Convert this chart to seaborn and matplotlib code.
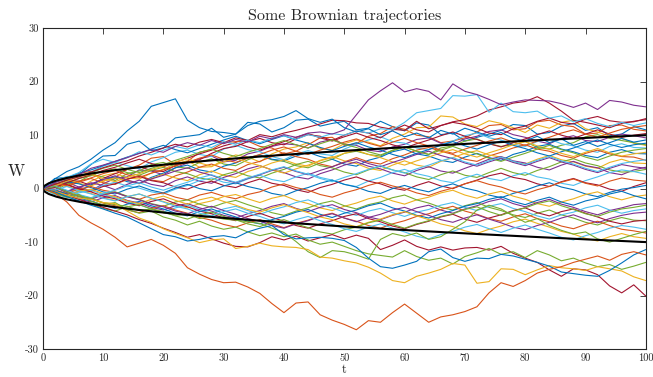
import numpy as np
import pandas as pd
import matplotlib
matplotlib.use("Agg")
import matplotlib.pyplot as plt
import seaborn as sns

# MATLAB default line colours
blue, orange, yellow, purple = "#0072BD", "#D95319", "#EDB120", "#7E2F8E"
green, lightblue, darkred = "#77AC30", "#4DBEEE", "#A2142F"

# -------------------------
# Trajectories read off the picture, sampled every 2 time units (51 values, t = 0..100)
# -------------------------
bundle = [
    (blue,      [0, 1.9, 2.1, 2.6, 4.5, 6.1, 6.2, 8.3, 8.9, 7.1, 7.6, 9.5, 9.8, 10.1, 11.3, 9.6, 10.2, 12.4, 12.1, 10.6, 11.4, 12.8, 13.0, 11.7, 12.2, 12.6, 11.0, 11.3, 12.6, 11.6, 10.8, 12.3, 11.9, 10.1, 10.4, 8.9, 9.6, 10.2, 10.9, 12.0, 11.8, 10.2, 10.5, 11.7, 12.2, 10.9, 11.4, 9.9, 10.2, 11.6, 11.0]),
    (orange,    [0, -0.6, 1.6, 2.9, 3.2, 1.4, 2.1, 3.6, 4.4, 5.7, 6.0, 4.5, 5.1, 6.8, 7.3, 8.6, 8.8, 8.9, 7.9, 7.6, 6.5, 7.0, 8.2, 9.5, 9.6, 8.1, 8.4, 9.8, 10.3, 11.6, 11.1, 10.0, 9.7, 8.6, 8.9, 9.5, 10.6, 11.8, 12.0, 11.0, 11.2, 12.5, 12.8, 11.9, 11.6, 10.2, 10.4, 11.8, 11.9, 11.1, 10.8]),
    (yellow,    [0, 0.6, -0.8, 0.1, 1.4, 2.4, 2.9, 2.0, 1.8, 2.9, 3.6, 4.7, 5.2, 4.0, 4.1, 5.4, 6.3, 5.9, 5.0, 6.5, 7.4, 7.8, 8.6, 7.5, 7.2, 8.4, 9.1, 8.7, 8.0, 9.4, 10.2, 11.4, 11.5, 13.6, 13.4, 12.1, 11.6, 12.7, 12.2, 11.4, 10.5, 11.9, 11.3, 12.4, 12.8, 11.2, 10.6, 9.8, 9.4, 8.5, 8.1]),
    (purple,    [0, 0.2, 1.2, 0.3, -0.4, 0.9, 1.9, 2.2, 3.5, 3.3, 2.6, 3.9, 4.8, 5.6, 6.1, 5.0, 5.3, 6.5, 7.0, 7.9, 8.4, 8.2, 7.6, 8.7, 9.2, 8.3, 8.1, 7.2, 6.9, 7.8, 8.3, 9.2, 9.5, 8.5, 8.2, 9.3, 9.8, 10.7, 11.0, 10.1, 9.6, 8.9, 8.4, 9.4, 9.9, 9.0, 8.8, 9.6, 10.2, 9.9, 9.5]),
    (green,     [0, -0.4, 0.9, 1.3, 2.6, 2.2, 1.5, 2.8, 3.3, 4.5, 4.9, 4.1, 3.8, 4.9, 5.6, 4.6, 4.3, 5.4, 6.2, 5.4, 5.1, 4.3, 3.9, 4.8, 5.5, 6.6, 7.0, 6.4, 6.1, 7.2, 7.8, 7.0, 6.4, 7.6, 8.0, 8.9, 9.3, 8.4, 7.9, 8.2, 8.8, 7.7, 7.4, 8.1, 8.6, 9.7, 10.1, 9.4, 9.0, 8.6, 8.2]),
    (lightblue, [0, 1.4, 2.3, 2.0, 3.1, 4.2, 4.9, 4.3, 3.7, 5.0, 5.8, 6.8, 7.2, 6.4, 6.0, 7.4, 8.1, 7.3, 6.9, 6.0, 5.4, 6.5, 7.1, 6.5, 6.2, 7.4, 8.3, 9.1, 9.7, 8.8, 8.5, 7.6, 7.3, 8.2, 8.9, 9.9, 10.4, 9.5, 9.1, 8.3, 7.9, 8.8, 9.3, 8.4, 8.0, 7.2, 6.8, 7.9, 8.4, 7.7, 7.6]),
    (darkred,   [0, 0.4, 1.5, 1.4, 0.6, 1.9, 2.8, 3.6, 4.1, 3.4, 3.2, 4.3, 5.0, 5.4, 6.6, 7.5, 7.9, 8.8, 9.4, 8.6, 8.2, 9.3, 10.1, 9.8, 9.0, 10.0, 10.8, 10.4, 9.5, 10.9, 11.9, 11.0, 10.6, 11.8, 12.4, 12.0, 11.3, 10.4, 10.1, 11.2, 11.7, 12.6, 13.2, 12.4, 12.1, 13.0, 13.5, 12.7, 12.4, 12.5, 13.1]),
    (blue,      [0, -0.9, -1.1, -0.5, 0.7, 1.8, 2.2, 1.3, 1.0, 2.1, 2.9, 3.9, 4.4, 3.5, 3.1, 4.2, 4.8, 5.8, 6.3, 5.5, 5.2, 6.1, 6.8, 6.0, 5.5, 4.6, 4.2, 5.3, 5.9, 6.9, 7.4, 6.5, 6.1, 5.3, 4.9, 5.9, 6.6, 5.8, 5.3, 6.4, 7.0, 7.9, 8.3, 7.4, 6.9, 6.2, 5.8, 6.8, 7.3, 6.6, 6.5]),
    (orange,    [0, 0.9, 0.4, 1.2, 1.9, 1.1, 0.8, 1.7, 2.5, 1.6, 1.3, 2.4, 3.1, 4.0, 4.6, 3.8, 3.4, 4.5, 5.1, 6.0, 6.7, 6.0, 5.5, 4.6, 4.1, 5.0, 5.8, 5.0, 4.6, 5.6, 6.3, 7.2, 7.7, 7.0, 6.4, 5.5, 5.1, 6.1, 6.8, 7.6, 8.2, 7.4, 7.0, 6.2, 5.7, 6.6, 7.2, 6.5, 6.0, 5.9, 5.3]),
    (yellow,    [0, 1.2, 1.8, 1.0, 0.5, 1.4, 2.0, 1.6, 0.9, 1.9, 2.7, 2.0, 1.5, 2.6, 3.3, 2.5, 2.1, 3.2, 3.9, 4.8, 5.4, 4.6, 4.2, 5.3, 6.0, 5.2, 4.7, 3.8, 3.4, 4.4, 5.2, 4.4, 4.0, 5.1, 5.8, 6.6, 7.1, 6.3, 5.9, 5.0, 4.6, 5.5, 6.2, 5.4, 5.0, 4.2, 3.8, 4.9, 5.5, 4.8, 4.7]),
    (purple,    [0, 0.3, -0.6, 0.2, 1.1, 0.6, -0.2, 0.8, 1.6, 0.8, 0.4, 1.5, 2.2, 1.4, 1.0, 2.1, 2.8, 3.7, 4.3, 3.5, 3.0, 2.2, 1.8, 2.8, 3.5, 4.4, 5.0, 4.2, 3.7, 2.9, 2.4, 3.4, 4.1, 3.3, 2.9, 3.8, 4.6, 5.5, 6.0, 5.2, 4.8, 4.0, 3.5, 4.4, 5.1, 4.3, 3.9, 3.0, 2.6, 3.5, 4.0]),
    (green,     [0, 0.2, 1.0, 1.9, 2.4, 3.3, 3.7, 3.0, 2.5, 3.4, 4.0, 3.2, 2.8, 2.0, 1.6, 2.6, 3.2, 2.4, 2.0, 2.9, 3.6, 4.5, 5.1, 4.3, 3.9, 3.1, 2.6, 3.5, 4.2, 3.5, 3.0, 2.2, 1.7, 2.6, 3.3, 2.5, 2.1, 3.0, 3.8, 3.0, 2.5, 3.4, 4.1, 5.0, 5.6, 4.8, 4.3, 3.5, 3.1, 3.2, 3.6]),
    (lightblue, [0, -0.9, -1.4, -0.6, -0.3, 0.6, 1.2, 0.5, 0.1, -0.6, -1.0, -0.1, 0.6, 1.5, 2.0, 1.2, 0.9, 1.8, 2.5, 1.7, 1.3, 2.2, 2.9, 2.1, 1.6, 0.8, 0.4, 1.4, 2.1, 3.0, 3.6, 2.8, 2.3, 1.5, 1.1, 2.0, 2.7, 1.9, 1.5, 2.4, 3.0, 2.2, 1.8, 1.0, 0.6, 1.5, 2.2, 3.0, 3.5, 3.2, 2.7]),
    (darkred,   [0, 0.9, 0.7, -0.1, -0.5, 0.4, 0.9, 1.8, 2.3, 1.5, 1.1, 0.3, -0.1, 0.8, 1.4, 0.6, 0.2, 1.1, 1.8, 1.0, 0.6, -0.2, -0.7, 0.2, 0.8, 1.6, 2.2, 1.4, 0.9, 0.1, -0.3, 0.6, 1.3, 0.5, 0.0, 0.9, 1.6, 2.4, 2.9, 2.1, 1.7, 0.9, 0.4, 1.3, 1.9, 1.1, 0.7, -0.1, -0.5, 0.4, 1.1]),
    (blue,      [0, 0.5, 1.3, 0.9, 0.2, -0.6, -1.0, -0.1, 0.5, -0.3, -0.8, 0.1, 0.8, 0.0, -0.4, 0.5, 1.1, 0.4, -0.1, -0.9, -1.3, -0.4, 0.2, 1.0, 1.6, 0.8, 0.3, -0.5, -0.9, 0.0, 0.6, -0.1, -0.6, 0.3, 0.9, 0.1, -0.4, -1.2, -1.7, -0.9, -0.3, 0.5, 1.1, 0.3, -0.2, -1.0, -1.5, -0.7, -0.1, 0.2, 0.6]),
    (orange,    [0, -0.2, -0.9, -0.1, 0.4, -0.3, -0.7, -1.5, -2.0, -1.2, -0.8, -1.6, -2.1, -1.2, -0.7, -1.4, -1.9, -1.1, -0.6, 0.3, 0.9, 0.2, -0.3, -1.1, -1.6, -0.8, -0.2, 0.6, 1.2, 0.5, 0.0, -0.8, -1.3, -0.5, 0.1, 0.9, 1.5, 0.8, 0.3, -0.5, -1.0, -0.2, 0.4, 1.2, 1.8, 1.0, 0.5, 1.4, 2.0, 1.6, 1.4]),
    (yellow,    [0, 0.8, 0.5, -0.3, -0.9, -1.7, -2.2, -1.5, -1.0, -1.8, -2.4, -3.1, -3.6, -2.8, -2.3, -1.5, -1.1, -1.9, -2.6, -1.8, -1.3, -2.2, -2.8, -3.6, -4.1, -3.3, -2.7, -1.9, -1.4, -2.3, -2.9, -2.1, -1.6, -0.8, -0.3, -1.2, -1.8, -1.0, -0.5, -1.4, -2.0, -2.8, -3.3, -2.5, -1.9, -1.1, -0.6, -1.5, -2.1, -1.5, -1.2]),
    (purple,    [0, -0.8, -1.2, -2.0, -2.5, -1.7, -1.3, -2.2, -2.7, -3.5, -4.0, -3.2, -2.8, -3.6, -4.2, -5.0, -5.5, -4.7, -4.1, -3.3, -2.8, -3.7, -4.3, -3.5, -3.0, -3.9, -4.5, -5.3, -5.8, -5.0, -4.4, -3.6, -3.1, -4.0, -4.6, -3.8, -3.2, -2.4, -1.9, -2.8, -3.4, -2.6, -2.0, -2.9, -3.5, -4.3, -4.9, -4.1, -3.6, -3.0, -2.8]),
    (green,     [0, 0.3, -0.4, -1.2, -1.8, -1.0, -0.6, -1.4, -2.0, -2.8, -3.3, -2.5, -2.1, -2.9, -3.5, -2.7, -2.2, -3.0, -3.7, -4.5, -5.0, -4.2, -3.6, -2.8, -2.3, -3.2, -3.8, -3.0, -2.5, -1.7, -1.2, -2.1, -2.7, -3.5, -4.0, -3.2, -2.6, -3.5, -4.1, -4.9, -5.4, -4.6, -4.0, -4.9, -5.5, -6.3, -6.8, -6.0, -5.4, -5.9, -6.0]),
    (lightblue, [0, -1.1, -1.6, -0.8, -0.3, -1.1, -1.7, -2.5, -3.0, -3.8, -4.4, -3.6, -3.1, -3.9, -4.6, -3.8, -3.3, -4.1, -4.8, -4.0, -3.4, -2.6, -2.1, -3.0, -3.6, -4.4, -5.0, -4.2, -3.7, -4.5, -5.2, -4.4, -3.9, -3.1, -2.6, -3.5, -4.1, -3.3, -2.8, -3.7, -4.3, -5.1, -5.7, -4.9, -4.4, -3.6, -3.1, -4.0, -4.6, -4.1, -3.8]),
    (darkred,   [0, 0.9, 0.8, 0.0, -0.6, -1.4, -1.9, -2.7, -3.2, -2.4, -1.9, -2.8, -3.4, -4.2, -4.7, -5.5, -6.0, -5.2, -4.6, -5.4, -6.1, -6.9, -7.4, -6.6, -6.0, -5.2, -4.7, -5.6, -6.2, -7.0, -7.5, -6.7, -6.1, -5.3, -4.8, -5.7, -6.3, -5.5, -4.9, -4.1, -3.6, -4.5, -5.1, -4.3, -3.8, -4.6, -5.3, -6.1, -6.6, -6.1, -5.9]),
    (blue,      [0, -0.3, -1.0, -1.8, -2.3, -3.1, -3.7, -2.9, -2.4, -3.2, -3.8, -4.6, -5.1, -4.3, -3.8, -4.6, -5.3, -6.1, -6.6, -5.8, -5.2, -4.4, -3.9, -4.8, -5.4, -4.6, -4.0, -3.2, -2.7, -3.6, -4.2, -5.0, -5.5, -4.7, -4.1, -3.3, -2.8, -2.0, -1.5, -2.4, -3.0, -2.2, -1.6, -2.5, -3.1, -2.3, -1.8, -1.0, -0.5, -1.3, -1.9]),
    (orange,    [0, 0.4, -0.6, -1.4, -1.9, -2.7, -3.2, -4.0, -4.5, -3.7, -3.2, -4.0, -4.6, -5.4, -5.9, -6.7, -7.2, -6.4, -5.8, -6.6, -7.3, -6.5, -5.9, -5.1, -4.6, -5.5, -6.1, -6.9, -7.4, -6.6, -6.0, -5.2, -4.7, -3.9, -3.3, -4.2, -4.8, -5.6, -6.1, -5.3, -4.7, -5.6, -6.2, -7.0, -7.5, -6.7, -6.1, -6.9, -7.6, -7.9, -8.3]),
    (yellow,    [0, -0.8, -1.3, -0.5, -0.1, -0.9, -1.5, -2.3, -2.8, -2.0, -1.4, -2.2, -2.9, -2.1, -1.6, -2.4, -3.1, -3.9, -4.4, -3.6, -3.0, -3.8, -4.5, -5.3, -5.8, -6.6, -7.1, -6.3, -5.7, -4.9, -4.3, -5.1, -5.8, -6.6, -7.1, -7.9, -8.4, -7.6, -7.0, -6.2, -5.7, -6.5, -7.2, -8.0, -8.5, -9.3, -9.8, -9.0, -8.4, -9.0, -9.3]),
    (purple,    [0, 0.2, -0.7, -1.5, -2.0, -1.2, -0.7, -1.5, -2.1, -2.9, -3.4, -4.2, -4.7, -3.9, -3.3, -4.1, -4.8, -5.6, -6.1, -6.9, -7.4, -6.6, -6.0, -5.2, -4.7, -5.5, -6.2, -5.4, -4.8, -4.0, -3.5, -4.3, -5.0, -5.8, -6.3, -5.5, -4.9, -5.7, -6.4, -7.2, -7.7, -6.9, -6.3, -5.5, -4.9, -5.7, -6.4, -5.6, -5.0, -4.6, -4.4]),
    (green,     [0, -0.6, -1.5, -2.3, -2.9, -3.7, -4.2, -3.4, -3.0, -3.8, -4.3, -5.1, -5.7, -4.9, -4.4, -5.2, -5.8, -6.6, -7.1, -6.3, -5.8, -6.6, -7.3, -8.1, -8.5, -7.7, -7.2, -6.4, -5.9, -6.7, -7.4, -6.6, -6.0, -5.2, -4.7, -3.9, -3.4, -4.3, -5.0, -4.2, -3.6, -2.8, -2.3, -3.2, -3.9, -4.7, -5.2, -4.4, -3.8, -3.5, -3.1]),
    (lightblue, [0, -0.3, 0.4, -0.4, -1.0, -1.8, -2.3, -1.5, -1.0, -1.8, -2.5, -3.3, -3.8, -4.6, -5.1, -4.3, -3.8, -4.6, -5.2, -6.0, -6.6, -5.8, -5.2, -6.0, -6.7, -7.5, -8.0, -7.2, -6.6, -7.4, -8.1, -8.9, -9.4, -8.6, -8.0, -7.2, -6.7, -7.5, -8.2, -7.4, -6.8, -7.6, -8.3, -9.1, -9.6, -8.8, -8.2, -7.4, -6.9, -7.2, -7.6]),
    (darkred,   [0, 0.2, 1.1, 1.9, 2.6, 3.4, 4.0, 4.8, 5.5, 4.7, 4.1, 4.9, 5.7, 6.5, 7.2, 8.0, 8.6, 7.8, 7.2, 8.0, 8.8, 9.6, 10.3, 9.5, 8.9, 9.7, 10.4, 9.6, 9.0, 8.2, 7.6, 8.4, 9.1, 9.9, 10.6, 9.8, 9.2, 8.4, 7.8, 8.6, 9.3, 10.1, 10.8, 10.0, 9.4, 10.2, 11.0, 10.2, 9.6, 10.0, 10.3]),
    (blue,      [0, 1.2, 2.0, 2.9, 3.5, 4.3, 5.1, 5.9, 6.6, 7.4, 8.1, 7.3, 6.7, 7.5, 8.3, 9.1, 9.8, 9.0, 8.4, 9.2, 9.9, 9.1, 8.5, 7.7, 7.1, 7.9, 8.6, 7.8, 7.2, 6.4, 5.8, 6.6, 7.3, 8.1, 8.8, 8.0, 7.4, 8.2, 8.9, 8.1, 7.5, 6.7, 6.1, 6.9, 7.6, 8.4, 9.1, 8.3, 7.7, 8.2, 8.5]),
    (orange,    [0, 0.9, 0.6, 1.4, 2.0, 2.8, 3.4, 2.6, 2.1, 2.9, 3.5, 4.3, 4.9, 5.7, 6.3, 5.5, 4.9, 5.7, 6.4, 7.2, 7.8, 7.0, 6.4, 7.2, 7.9, 8.7, 9.3, 8.5, 7.9, 8.7, 9.4, 8.6, 8.0, 7.2, 6.6, 7.4, 8.1, 8.9, 9.5, 8.7, 8.1, 8.9, 9.6, 10.4, 11.0, 10.2, 9.6, 10.4, 11.1, 11.5, 11.8]),
    (yellow,    [0, 0.5, 1.4, 2.2, 2.7, 1.9, 1.3, 2.1, 2.8, 3.6, 4.2, 5.0, 5.6, 4.8, 4.2, 5.0, 5.7, 4.9, 4.3, 3.5, 2.9, 3.7, 4.4, 5.2, 5.8, 6.6, 7.2, 6.4, 5.8, 5.0, 4.4, 5.2, 5.9, 6.7, 7.3, 6.5, 5.9, 6.7, 7.4, 8.2, 8.8, 8.0, 7.4, 6.6, 6.0, 6.8, 7.5, 6.7, 6.1, 6.5, 6.8]),
    (purple,    [0, 0.4, -0.5, 0.3, 0.9, 1.7, 2.4, 1.6, 1.0, 1.8, 2.5, 3.3, 3.9, 3.1, 2.5, 1.7, 1.1, 1.9, 2.6, 3.4, 4.0, 3.2, 2.6, 3.4, 4.1, 4.9, 5.5, 4.7, 4.1, 4.9, 5.6, 6.4, 7.0, 6.2, 5.6, 4.8, 4.2, 5.0, 5.7, 4.9, 4.3, 5.1, 5.8, 5.0, 4.4, 3.6, 3.0, 3.8, 4.5, 4.1, 3.8]),
    (green,     [0, 0.8, 1.7, 2.5, 3.0, 3.8, 4.4, 3.6, 3.0, 3.8, 4.5, 5.3, 6.0, 6.8, 7.4, 6.6, 6.0, 6.8, 7.5, 8.3, 9.0, 8.2, 7.6, 8.4, 9.1, 8.3, 7.7, 6.9, 6.3, 7.1, 7.8, 7.0, 6.4, 7.2, 7.9, 7.1, 6.5, 5.7, 5.1, 5.9, 6.6, 7.4, 8.1, 7.3, 6.7, 5.9, 5.3, 6.1, 6.8, 7.2, 7.5]),
    (lightblue, [0, 0.5, -0.3, -1.1, -1.7, -0.9, -0.3, 0.5, 1.1, 0.3, -0.3, 0.5, 1.2, 2.0, 2.6, 1.8, 1.2, 2.0, 2.7, 3.5, 4.1, 3.3, 2.7, 1.9, 1.3, 2.1, 2.8, 3.6, 4.3, 3.5, 2.9, 3.7, 4.4, 5.2, 5.8, 5.0, 4.4, 5.2, 5.9, 5.1, 4.5, 5.3, 6.0, 5.2, 4.6, 3.8, 3.2, 4.0, 4.7, 5.1, 5.4]),
]

w_blue_high = [0, 1.8, 3.2, 4.1, 5.5, 7.2, 8.6, 10.8, 12.6, 15.4, 16.1, 16.8, 12.8, 11.4, 10.7, 10.5, 10.2,
               11.8, 12.6, 12.9, 13.5, 14.6, 13.1, 12.4, 13.0, 11.4, 10.6, 11.2, 10.1, 10.8, 9.7, 10.4, 9.5,
               10.9, 10.2, 11.3, 10.6, 9.8, 10.5, 9.4, 8.9, 9.8, 8.6, 9.3, 8.1, 8.8, 7.9, 8.6, 9.4, 8.7, 9.1]
w_orange_low = [0, -0.8, -2.5, -5.0, -6.4, -7.6, -9.1, -10.9, -10.2, -9.5, -10.6, -12.1, -14.8, -16.0, -17.0,
                -17.6, -17.5, -18.4, -19.6, -21.5, -23.2, -21.4, -21.2, -23.6, -24.6, -25.4, -26.4, -24.7,
                -25.0, -23.2, -21.6, -23.3, -25.0, -24.0, -23.6, -23.0, -22.1, -19.5, -17.6, -18.3, -17.2,
                -15.8, -15.1, -14.6, -13.8, -13.2, -12.6, -13.4, -12.3, -11.8, -12.4]
w_yellow_low = [0, -0.5, -1.2, -1.8, -2.0, -2.6, -2.8, -4.2, -5.5, -6.3, -7.5, -8.4, -9.2, -10.1, -9.6, -9.4,
                -11.2, -10.8, -10.2, -10.7, -10.9, -11.0, -11.4, -12.8, -13.0, -13.5, -13.9, -14.7, -15.8,
                -17.2, -17.6, -16.4, -15.8, -15.1, -14.0, -14.3, -17.7, -17.4, -15.0, -15.1, -16.1, -15.2,
                -14.4, -14.8, -15.0, -15.3, -14.6, -15.0, -15.4, -16.5, -17.2]
w_blue_low = [0, -0.6, -1.5, -2.3, -3.1, -3.8, -4.6, -5.3, -6.4, -7.5, -8.6, -9.0, -9.8, -9.5, -9.0, -8.8,
              -9.2, -8.1, -7.4, -6.9, -8.6, -9.4, -9.2, -9.1, -9.3, -9.7, -11.0, -13.0, -14.6, -14.9, -14.3,
              -13.6, -11.8, -11.3, -12.9, -13.6, -13.0, -13.1, -12.3, -12.6, -13.2, -13.8, -14.5, -15.6,
              -15.9, -16.2, -16.4, -15.3, -13.9, -12.4, -11.4]
w_green_low_a = [0, 0.4, -0.6, -1.5, -1.8, -2.6, -3.0, -3.3, -4.1, -3.8, -4.5, -5.0, -4.8, -5.6, -5.2, -5.7,
                 -5.9, -6.2, -6.5, -7.4, -8.2, -9.9, -11.8, -12.9, -11.6, -11.8, -12.4, -13.2, -9.5, -8.4,
                 -8.9, -8.3, -9.5, -9.0, -7.6, -6.2, -4.0, -3.1, -3.8, -5.1, -6.3, -5.6, -6.9, -7.8, -8.5,
                 -8.1, -9.4, -10.0, -9.3, -8.6, -8.0]
w_green_low_b = [0, -0.9, -1.6, -1.1, -2.4, -3.0, -2.6, -3.9, -4.6, -4.2, -5.3, -5.9, -6.8, -6.1, -7.0, -7.6,
                 -7.2, -8.1, -8.8, -8.3, -9.0, -8.5, -9.6, -10.4, -10.0, -10.8, -11.6, -12.2, -12.5, -12.8,
                 -11.6, -12.7, -13.4, -13.0, -14.1, -12.7, -12.0, -11.2, -12.3, -11.8, -12.9, -11.6, -12.4,
                 -13.5, -13.0, -13.9, -14.6, -14.2, -15.1, -14.5, -13.8]
w_purple_high = [0, 1.1, 1.9, 2.6, 3.8, 4.4, 5.1, 5.8, 6.6, 7.3, 6.8, 7.9, 8.6, 8.1, 9.0, 8.4, 9.2, 8.7, 9.8,
                 9.3, 10.1, 9.6, 10.4, 10.6, 10.2, 11.0, 13.8, 16.6, 18.3, 19.8, 18.1, 18.7, 18.2, 16.6, 19.6,
                 18.2, 17.6, 16.7, 15.7, 16.2, 16.6, 16.5, 16.4, 15.9, 15.2, 16.0, 14.8, 16.5, 16.2, 15.6, 15.3]
w_lightblue_high = [0, 1.3, 2.1, 3.0, 4.6, 5.5, 4.9, 5.8, 6.9, 6.3, 7.2, 7.9, 7.4, 8.2, 7.7, 8.8, 8.3, 9.1,
                    8.6, 9.5, 9.9, 9.2, 10.1, 9.6, 10.3, 10.0, 10.8, 10.4, 11.2, 11.0, 12.4, 14.2, 14.6, 15.0,
                    17.4, 17.3, 17.6, 14.3, 16.0, 14.4, 14.2, 14.5, 13.2, 13.6, 12.5, 13.1, 12.2, 11.6, 12.4,
                    11.8, 12.3]
w_darkred_high = [0, 0.8, 1.6, 2.2, 3.1, 3.9, 4.6, 5.2, 6.1, 6.8, 7.6, 8.3, 7.8, 8.7, 9.2, 8.6, 9.5, 9.0,
                  10.1, 9.7, 10.4, 10.9, 11.5, 12.1, 12.8, 12.7, 12.3, 12.2, 11.5, 11.1, 10.9, 12.6, 11.2,
                  11.8, 12.5, 12.9, 13.6, 14.7, 15.3, 16.0, 16.3, 17.2, 16.0, 14.5, 12.8, 12.4, 11.9, 11.4,
                  12.2, 12.6, 12.9]
w_darkred_low = [0, -0.5, -1.2, -2.0, -2.8, -3.5, -4.2, -4.9, -5.8, -6.5, -7.4, -8.2, -9.1, -8.6, -9.4,
                 -10.2, -10.8, -10.9, -10.1, -9.0, -9.6, -8.9, -9.8, -9.2, -8.6, -9.4, -8.7, -9.3, -11.4,
                 -10.6, -9.6, -10.8, -11.5, -10.9, -11.5, -11.1, -11.0, -11.5, -10.8, -12.1, -13.0, -13.8,
                 -15.2, -16.4, -15.0, -15.2, -16.1, -18.2, -19.5, -18.0, -20.1]

outer = [
    (darkred, w_darkred_low), (green, w_green_low_b), (green, w_green_low_a),
    (yellow, w_yellow_low), (blue, w_blue_low), (orange, w_orange_low),
    (darkred, w_darkred_high), (lightblue, w_lightblue_high), (purple, w_purple_high),
    (blue, w_blue_high),
]

# +/- sqrt(t) envelope, read at a few points
env_t = [0, 0.25, 1, 2.25, 4, 6.25, 9, 12.25, 16, 20.25, 25, 30.25, 36, 42.25, 49, 56.25, 64, 72.25, 81, 90.25, 100]
env_w = [0, 0.5, 1, 1.5, 2, 2.5, 3, 3.5, 4, 4.5, 5, 5.5, 6, 6.5, 7, 7.5, 8, 8.5, 9, 9.5, 10]

# -------------------------
# Long table for seaborn
# -------------------------
rows = []
colors = {}
for i, (c, w) in enumerate(bundle + outer):
    t = np.linspace(0, 100, len(w))
    name = f"p{i:02d}"
    colors[name] = c
    rows.append(pd.DataFrame({"t": t, "W": w, "path": name}))
df = pd.concat(rows, ignore_index=True)

sns.set_style("white")
plt.rcParams["font.family"] = ["cmr10", "DejaVu Serif"]
plt.rcParams["mathtext.fontset"] = "cm"
plt.rcParams["axes.formatter.use_mathtext"] = True
plt.rcParams["axes.unicode_minus"] = False

fig = plt.figure(figsize=(6.53, 3.77), dpi=100)
ax = fig.add_axes([0.0654, 0.0743, 0.9236, 0.8507])

sns.lineplot(data=df, x="t", y="W", hue="path", palette=colors, units="path",
             estimator=None, legend=False, linewidth=0.8, sort=False, ax=ax)
sns.lineplot(x=env_t, y=env_w, color="black", linewidth=1.5, ax=ax)
sns.lineplot(x=env_t, y=[-v for v in env_w], color="black", linewidth=1.5, ax=ax)

ax.set_xlim(0, 100)
ax.set_ylim(-30, 30)
ax.set_xticks(range(0, 101, 10))
ax.set_yticks(range(-30, 31, 10))
ax.set_xticklabels([str(v) for v in range(0, 101, 10)])
ax.set_yticklabels([str(v) for v in range(-30, 31, 10)])
ax.tick_params(direction="in", top=True, right=True, length=4.5, width=0.6,
               labelsize=7.5, colors="#262626", pad=3)
for s in ax.spines.values():
    s.set_linewidth(0.8)
    s.set_color("#262626")

ax.set_title("Some Brownian trajectories", fontsize=11.5, pad=6)
ax.set_xlabel("t", fontsize=9, labelpad=1)
ax.set_ylabel("W", fontsize=12, rotation=0)
ax.yaxis.set_label_coords(-0.044, 0.53)

fig.savefig("out.png", dpi=100)
